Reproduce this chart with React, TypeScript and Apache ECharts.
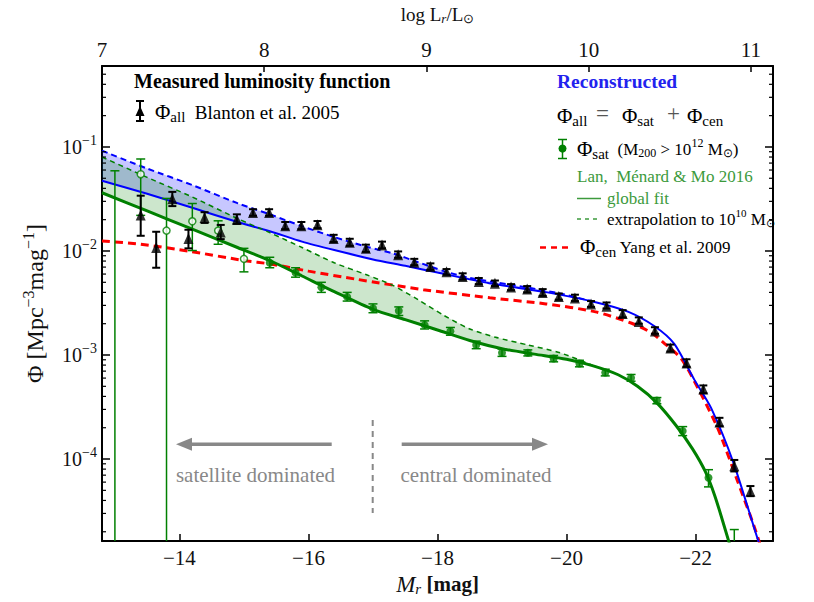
import React, { useEffect, useRef } from "react";
import * as echarts from "echarts";

const FONT = "Liberation Serif";

// Axis ranges
const X_MIN = -23.2;
const X_MAX = -12.8;
const TOP_MIN = 7;
const TOP_MAX = 11.136;
const Y_MIN = 1.63e-5;
const Y_MAX = 0.6;

// Blanton et al. 2005 (Phi_all, measured)
const blantonMr = [-13.40, -13.64, -13.89, -14.14, -14.39, -14.64, -14.89, -15.14, -15.39, -15.64, -15.89, -16.14, -16.39, -16.64, -16.89, -17.14, -17.39, -17.64, -17.89, -18.14, -18.39, -18.64, -18.89, -19.14, -19.39, -19.63, -19.88, -20.13, -20.38, -20.62, -20.87, -21.12, -21.37, -21.61, -21.86, -22.12, -22.37, -22.60, -22.85];
const blantonPhi = [0.0222, 0.0108, 0.0318, 0.0132, 0.0210, 0.0152, 0.0202, 0.0234, 0.0234, 0.0175, 0.0175, 0.0179, 0.0132, 0.0121, 0.0106, 0.0114, 0.0092, 0.0078, 0.0071, 0.0063, 0.0057, 0.0051, 0.0049, 0.0045, 0.0043, 0.0040, 0.00365, 0.00353, 0.0031, 0.00295, 0.0025, 0.0021, 0.0017, 0.00117, 0.00084, 0.00047, 0.000227, 0.000086, 0.000049];
const blantonLo = [0.0140, 0.0069, 0.0270, 0.0106, 0.0186, 0.0130, 0.0182, 0.0218, 0.0218, 0.0162, 0.0162, 0.0166, 0.0122, 0.0112, 0.0098, 0.0106, 0.0086, 0.0073, 0.0066, 0.0059, 0.0053, 0.0048, 0.0046, 0.0042, 0.0040, 0.0037, 0.0034, 0.0033, 0.0029, 0.0028, 0.0023, 0.0020, 0.0016, 0.00108, 0.00077, 0.00043, 0.000207, 0.000076, 0.000044];
const blantonHi = [0.0340, 0.0153, 0.0370, 0.0160, 0.0236, 0.0178, 0.0225, 0.0252, 0.0252, 0.0190, 0.0190, 0.0194, 0.0143, 0.0131, 0.0115, 0.0123, 0.0099, 0.0084, 0.0076, 0.0067, 0.0061, 0.0055, 0.0052, 0.0048, 0.0046, 0.0043, 0.0039, 0.0038, 0.0033, 0.0032, 0.0027, 0.0023, 0.00185, 0.00126, 0.00091, 0.00051, 0.000249, 0.000098, 0.000055];

// Lan, Ménard & Mo 2016 (Phi_sat); null = centre below the plotted range
const satMr = [-13.0, -13.4, -13.8, -14.2, -14.6, -15.0, -15.4, -15.8, -16.2, -16.6, -17.0, -17.4, -17.8, -18.2, -18.6, -19.0, -19.4, -19.8, -20.2, -20.6, -21.0, -21.4, -21.8, -22.2, -22.6];
const satPhi = [null, 0.0547, 0.0157, 0.0193, 0.0157, 0.0084, 0.0077, 0.0062, 0.00447, 0.00362, 0.00282, 0.00266, 0.00195, 0.00169, 0.00125, 0.00105, 0.00105, 0.000925, 0.00083, 0.00068, 0.000603, 0.000366, 0.000186, 0.000066, null];
const satLo = [1e-7, 0.022, 1e-7, 0.0101, 0.0116, 0.0063, 0.0069, 0.0056, 0.0040, 0.0033, 0.00255, 0.0024, 0.00178, 0.00155, 0.00115, 0.00097, 0.00098, 0.00086, 0.00077, 0.00063, 0.00056, 0.00034, 0.000168, 0.000054, 1e-7];
const satHi = [0.059, 0.0766, 0.032, 0.0286, 0.0195, 0.0106, 0.0087, 0.0069, 0.0050, 0.0040, 0.0031, 0.0029, 0.00213, 0.00184, 0.00136, 0.00114, 0.00112, 0.00099, 0.00089, 0.00073, 0.00065, 0.00039, 0.000205, 0.000079, 0.000021];
const satOpen = [true, true, true, true, true, true, false, false, false, false, false, false, false, false, false, false, false, false, false, false, false, false, false, false, false];

// Phi_sat global fit (green solid)
const fitMr = [-12.8, -13.5, -14.2, -14.9, -15.4, -15.9, -16.4, -17.0, -17.5, -18.0, -18.5, -19.0, -19.5, -20.0, -20.4, -20.8, -21.1, -21.4, -21.7, -21.95, -22.15, -22.3, -22.45, -22.6];
const fitPhi = [0.0363, 0.0243, 0.0162, 0.0108, 0.0081, 0.00575, 0.00407, 0.00275, 0.00219, 0.00174, 0.00138, 0.00115, 0.00102, 0.00091, 0.00079, 0.000646, 0.0005, 0.000347, 0.000209, 0.000126, 0.000076, 0.000044, 0.000022, 0.0000107];

// Phi_sat extrapolation to 1e10 Msun (green dashed)
const extMr = [-12.8, -13.5, -14.2, -14.9, -15.4, -15.9, -16.4, -16.9, -17.3, -17.7, -18.1, -18.5, -18.9, -19.4, -19.9, -20.4];
const extPhi = [0.080, 0.051, 0.033, 0.0205, 0.0150, 0.0108, 0.0077, 0.0059, 0.0047, 0.0034, 0.0024, 0.00178, 0.00148, 0.00125, 0.00105, 0.00080];

// Phi_cen Yang et al. 2009 (red dashed)
const cenMr = [-12.8, -13.4, -14.17, -15.0, -15.41, -16.0, -16.75, -17.78, -18.81, -19.68, -20.45, -21.01, -21.32, -21.52, -21.78, -22.03, -22.34, -22.64, -22.93, -23.2];
const cenPhi = [0.0125, 0.0116, 0.0099, 0.0081, 0.0075, 0.0064, 0.00534, 0.00425, 0.00355, 0.0031, 0.0026, 0.00202, 0.00163, 0.00129, 0.00092, 0.00049, 0.0002, 0.000064, 0.0000205, 0.000006];

// Reconstructed Phi_all, global fit (blue solid)
const allFitMr = [-12.8, -13.5, -14.2, -14.9, -15.4, -15.9, -16.4, -17.0, -17.5, -18.0, -18.8, -19.7, -20.45, -20.96, -21.37, -21.67, -21.98, -22.24, -22.59, -22.95, -23.2];
const allFitPhi = [0.0473, 0.0355, 0.026, 0.019, 0.0155, 0.0123, 0.0102, 0.0083, 0.0072, 0.0062, 0.0049, 0.0040, 0.00322, 0.0026, 0.00188, 0.00128, 0.00058, 0.00031, 0.000091, 0.000018, 0.000006];

// Reconstructed Phi_all, extrapolation (blue dashed)
const allExtMr = [-12.8, -13.5, -14.2, -14.9, -15.4, -15.9, -16.4, -16.9, -17.3, -17.7, -18.1, -18.5, -18.9, -19.4, -19.9, -20.45];
const allExtPhi = [0.092, 0.062, 0.043, 0.0288, 0.0225, 0.0173, 0.0136, 0.0110, 0.0095, 0.0078, 0.0064, 0.0055, 0.0050, 0.00445, 0.0039, 0.00322];

// Minor tick mantissas of the log axis
const minorMantissas = [2, 3, 4, 5, 6, 7, 8, 9];
const minorDecades = [-5, -4, -3, -2, -1];

const BLUE = "#0000ff";
const GREEN = "#008000";
const RED = "#ff0000";
const GREY = "#888888";
const TXT_GREEN = "#3c9a3c";
const TXT_RED = "#ff3030";

const zip = (xs: number[], ys: (number | null)[]) => xs.map((x, i) => [x, ys[i]]);

function errRender(color: string, lw: number, capHalf: number) {
  return (params: any, api: any) => {
    const x = api.value(0);
    const lo = api.value(1);
    const hi = api.value(2);
    const cs = params.coordSys;
    const pLo = api.coord([x, lo]);
    const pHi = api.coord([x, hi]);
    const top = cs.y;
    const bot = cs.y + cs.height;
    const px = pLo[0];
    const y1 = Math.min(pLo[1], bot);
    const y2 = Math.max(pHi[1], top);
    const st = { stroke: color, lineWidth: lw };
    const children: any[] = [{ type: "line", shape: { x1: px, y1, x2: px, y2 }, style: st }];
    if (pLo[1] <= bot) children.push({ type: "line", shape: { x1: px - capHalf, y1: pLo[1], x2: px + capHalf, y2: pLo[1] }, style: st });
    if (pHi[1] >= top) children.push({ type: "line", shape: { x1: px - capHalf, y1: pHi[1], x2: px + capHalf, y2: pHi[1] }, style: st });
    return { type: "group", children };
  };
}

// Fill between an upper curve and a lower curve, over the x-range of the upper curve
function bandRender(upper: number[][], lower: number[][], fill: string) {
  const xa = Math.min(upper[0][0], upper[upper.length - 1][0]);
  const xb = Math.max(upper[0][0], upper[upper.length - 1][0]);
  const lowIn = lower.filter((p) => p[0] >= xa - 1e-9 && p[0] <= xb + 1e-9);
  return (params: any, api: any) => {
    if (params.dataIndex !== 0) return { type: "group", children: [] };
    const pts = upper.map((p) => api.coord(p)).concat(lowIn.slice().reverse().map((p) => api.coord(p)));
    return { type: "polygon", shape: { points: pts }, style: { fill, stroke: "none" } };
  };
}

function buildOption(): any {
  const minorVals: number[][] = [];
  minorDecades.forEach((d) => minorMantissas.forEach((m) => {
    const v = m * Math.pow(10, d);
    if (v > Y_MIN && v < Y_MAX) minorVals.push([-18, v]);
  }));

  const blantonErr = blantonMr.map((x, i) => [x, blantonLo[i], blantonHi[i]]);
  const satErr = satMr.map((x, i) => [x, satLo[i], satHi[i]]);
  const satFilled = satMr.map((x, i) => [x, satPhi[i]]).filter((p, i) => p[1] !== null && !satOpen[i]);
  const satOpenPts = satMr.map((x, i) => [x, satPhi[i]]).filter((p, i) => p[1] !== null && satOpen[i]);

  const allFit = zip(allFitMr, allFitPhi) as number[][];
  const allExt = zip(allExtMr, allExtPhi) as number[][];
  const fit = zip(fitMr, fitPhi) as number[][];
  const ext = zip(extMr, extPhi) as number[][];

  const axisLine = { show: true, onZero: false, lineStyle: { color: "#000", width: 2 } };

  const txt = (text: string, x: number, y: number, extra: any = {}) => {
    const style: any = {
      text, x, y,
      fontFamily: FONT, fontSize: extra.fontSize || 18, fill: extra.fill || "#000",
      align: extra.align || "left", verticalAlign: "middle",
    };
    if (extra.fontWeight) style.fontWeight = extra.fontWeight;
    if (extra.rich) style.rich = extra.rich;
    return { type: "text", z: 100, style };
  };

  const R = (size: number, color: string, extra: any = {}) => ({ fontSize: size, fontFamily: FONT, color, ...extra });
  const sub = (size: number, color: string) => R(size, color, { padding: [10, 0, 0, 0] });

  const graphic: any[] = [
    // Measured LF legend
    txt("Measured luminosity function", 134, 81, { fontSize: 20, fontWeight: "bold", fill: "#000" }),
    { type: "line", z: 100, shape: { x1: 140, y1: 101, x2: 140, y2: 121 }, style: { stroke: "#000", lineWidth: 2 } },
    { type: "line", z: 100, shape: { x1: 136, y1: 101, x2: 144, y2: 101 }, style: { stroke: "#000", lineWidth: 2 } },
    { type: "line", z: 100, shape: { x1: 136, y1: 121, x2: 144, y2: 121 }, style: { stroke: "#000", lineWidth: 2 } },
    { type: "polygon", z: 100, shape: { points: [[140, 106], [135.5, 116], [144.5, 116]] }, style: { fill: "#000" } },
    txt("{p|Φ}{s|all}{t|  Blanton et al. 2005}", 155, 112, {
      rich: { p: R(21, "#111"), s: sub(15, "#111"), t: R(19, "#444") },
    }),
    // Reconstructed legend
    txt("Reconstructed", 557, 81, { fontSize: 19.5, fontWeight: "bold", fill: "#2222ee" }),
    txt("{p|Φ}{s|all}", 557, 116, { rich: { p: R(21, "#4444ff"), s: sub(15, "#4444ff") } }),
    txt("=", 596, 113, { fontSize: 23, fill: "#555" }),
    txt("{p|Φ}{s|sat}", 622, 116, { rich: { p: R(21, TXT_GREEN), s: sub(15, TXT_GREEN) } }),
    txt("+", 667, 113, { fontSize: 23, fill: "#555" }),
    txt("{p|Φ}{s|cen}", 687, 116, { rich: { p: R(21, TXT_RED), s: sub(15, TXT_RED) } }),
    // Phi_sat legend
    { type: "line", z: 100, shape: { x1: 562.5, y1: 139.5, x2: 562.5, y2: 158.5 }, style: { stroke: GREEN, lineWidth: 1.5 } },
    { type: "line", z: 100, shape: { x1: 558, y1: 139.5, x2: 567, y2: 139.5 }, style: { stroke: GREEN, lineWidth: 1.5 } },
    { type: "line", z: 100, shape: { x1: 558, y1: 158.5, x2: 567, y2: 158.5 }, style: { stroke: GREEN, lineWidth: 1.5 } },
    { type: "circle", z: 100, shape: { cx: 562.5, cy: 148.5, r: 4 }, style: { fill: GREEN } },
    txt("{p|Φ}{s|sat}{t|  (M}{u|200}{t| > 10}{v|12}{t| M}{u|⊙}{t|)}", 577, 149, {
      rich: {
        p: R(21, TXT_GREEN), s: sub(15, TXT_GREEN),
        t: R(17, TXT_GREEN), u: R(12, TXT_GREEN, { padding: [8, 0, 0, 0] }), v: R(12, TXT_GREEN, { padding: [0, 0, 12, 0] }),
      },
    }),
    txt("Lan,  Ménard & Mo 2016", 577, 176, { fontSize: 17, fill: TXT_GREEN }),
    { type: "line", z: 100, shape: { x1: 577, y1: 198.5, x2: 601, y2: 198.5 }, style: { stroke: TXT_GREEN, lineWidth: 1.5 } },
    txt("global fit", 607, 198, { fontSize: 17, fill: TXT_GREEN }),
    { type: "line", z: 100, shape: { x1: 577, y1: 219, x2: 601, y2: 219 }, style: { stroke: TXT_GREEN, lineWidth: 1.5, lineDash: [4, 4] } },
    txt("{t|extrapolation to 10}{v|10}{t| M}{u|⊙}", 607, 219, {
      rich: { t: R(17, TXT_GREEN), u: R(11, TXT_GREEN, { padding: [8, 0, 0, 0] }), v: R(11, TXT_GREEN, { padding: [0, 0, 12, 0] }) },
    }),
    // Phi_cen legend
    { type: "line", z: 100, shape: { x1: 540, y1: 247.5, x2: 573, y2: 247.5 }, style: { stroke: RED, lineWidth: 2.5, lineDash: [6, 5] } },
    txt("{p|Φ}{s|cen}{t| Yang et al. 2009}", 580, 247, {
      rich: { p: R(21, TXT_RED), s: sub(15, TXT_RED), t: R(17, TXT_RED) },
    }),
    // Arrows and domination labels
    { type: "line", z: 100, shape: { x1: 331.7, y1: 444.3, x2: 190, y2: 444.3 }, style: { stroke: GREY, lineWidth: 3.5 } },
    { type: "polygon", z: 100, shape: { points: [[176, 444.3], [192, 437.8], [192, 450.8]] }, style: { fill: GREY } },
    { type: "line", z: 100, shape: { x1: 401.7, y1: 444.3, x2: 534, y2: 444.3 }, style: { stroke: GREY, lineWidth: 3.5 } },
    { type: "polygon", z: 100, shape: { points: [[548, 444.3], [532, 437.8], [532, 450.8]] }, style: { fill: GREY } },
    { type: "line", z: 100, shape: { x1: 372.7, y1: 420, x2: 372.7, y2: 513 }, style: { stroke: GREY, lineWidth: 2, lineDash: [6, 5] } },
    txt("satellite dominated", 255.5, 474.5, { fontSize: 21, fill: GREY, align: "center" }),
    txt("central dominated", 476, 474.5, { fontSize: 21, fill: GREY, align: "center" }),
  ];

  const lineSeries = (data: any[], color: string, width: number, dashed: number[] | null, z: number) => ({
    type: "line",
    data,
    showSymbol: false,
    symbol: "none",
    smooth: 0.25,
    clip: true,
    z,
    silent: true,
    lineStyle: { color, width, type: dashed ? dashed : "solid" },
  });

  return {
    animation: false,
    graphic,
    grid: { left: 102, right: 41, top: 54, bottom: 61, containLabel: false },
    xAxis: [
      {
        type: "value",
        min: X_MIN,
        max: X_MAX,
        inverse: true,
        position: "bottom",
        splitNumber: 5,
        axisLine,
        axisTick: { inside: true, length: 7, lineStyle: { color: "#000", width: 1.5 } },
        axisLabel: {
          fontFamily: FONT, color: "#111", fontSize: 21, margin: 6, showMinLabel: false, showMaxLabel: false,
          formatter: (v: number) => (v < 0 ? "−" : "") + Math.abs(v),
        },
        splitLine: { show: false },
        name: "{i|M}{s|r}{n| }{b|[mag]}",
        nameLocation: "middle",
        nameGap: 31,
        nameTextStyle: {
          rich: {
            i: R(23, "#111", { fontStyle: "italic" }),
            s: R(15, "#111", { fontStyle: "italic", padding: [9, 0, 0, 0] }),
            n: R(21, "#111"),
            b: R(21, "#111", { fontWeight: "bold" }),
          },
        },
      },
      {
        type: "value",
        min: TOP_MIN,
        max: TOP_MAX,
        interval: 1,
        position: "top",
        axisLine,
        axisTick: { inside: true, length: 6, lineStyle: { color: "#000", width: 1.5 } },
        axisLabel: { fontFamily: FONT, color: "#111", fontSize: 21, margin: 6, showMaxLabel: false },
        splitLine: { show: false },
        name: "{n|log L}{s|r}{n|/L}{u|⊙}",
        nameLocation: "middle",
        nameGap: 41,
        nameTextStyle: {
          rich: {
            n: R(19, "#111"),
            s: R(13, "#111", { fontStyle: "italic", padding: [8, 0, 0, 0] }),
            u: R(13, "#111", { padding: [8, 0, 0, 0] }),
          },
        },
      },
    ],
    yAxis: [
      {
        type: "log",
        min: Y_MIN,
        max: Y_MAX,
        position: "left",
        axisLine,
        axisTick: { inside: true, length: 8, lineStyle: { color: "#000", width: 1.5 } },
        axisLabel: {
          fontFamily: FONT,
          color: "#111",
          margin: 5,
          showMinLabel: false,
          showMaxLabel: false,
          formatter: (v: number) => "{b|10}{s|−" + Math.abs(Math.round(Math.log10(v))) + "}",
          rich: {
            b: R(20, "#111"),
            s: R(14, "#111", { padding: [0, 0, 13, 0] }),
          },
        },
        splitLine: { show: false },
        name: "{n|Φ [Mpc}{s|−3}{n|mag}{s|−1}{n|]}",
        nameLocation: "middle",
        nameRotate: 90,
        nameGap: 52,
        nameTextStyle: {
          rich: {
            n: R(24, "#111"),
            s: R(16, "#111", { padding: [0, 0, 14, 0] }),
          },
        },
      },
      {
        type: "log",
        min: Y_MIN,
        max: Y_MAX,
        position: "right",
        axisLine,
        axisTick: { inside: true, length: 8, lineStyle: { color: "#000", width: 1.5 } },
        axisLabel: { show: false },
        splitLine: { show: false },
      },
    ],
    series: [
      {
        type: "custom", coordinateSystem: "cartesian2d", silent: true, z: 1,
        data: allExt, encode: { x: 0, y: 1 },
        renderItem: bandRender(allExt, allFit, "rgba(0,0,255,0.22)"),
      },
      {
        type: "custom", coordinateSystem: "cartesian2d", silent: true, z: 1,
        data: ext, encode: { x: 0, y: 1 },
        renderItem: bandRender(ext, fit, "rgba(0,128,0,0.2)"),
      },
      lineSeries(zip(cenMr, cenPhi), RED, 3, [8, 5], 3),
      lineSeries(allFit, BLUE, 2, null, 3),
      lineSeries(allExt, BLUE, 2, [6, 4], 3),
      lineSeries(fit, GREEN, 3, null, 3),
      lineSeries(ext, GREEN, 1.5, [5, 4], 3),
      {
        type: "custom", coordinateSystem: "cartesian2d", silent: true, z: 5,
        data: minorVals, encode: { x: 0, y: 1 },
        renderItem: (params: any, api: any) => {
          const y = api.coord([-18, api.value(1)])[1];
          const cs = params.coordSys;
          const st = { stroke: "#000", lineWidth: 1.2 };
          return {
            type: "group",
            children: [
              { type: "line", shape: { x1: cs.x, y1: y, x2: cs.x + 4, y2: y }, style: st },
              { type: "line", shape: { x1: cs.x + cs.width - 4, y1: y, x2: cs.x + cs.width, y2: y }, style: st },
            ],
          };
        },
      },
      {
        type: "custom", coordinateSystem: "cartesian2d", silent: true, z: 4,
        data: satErr, encode: { x: 0, y: [1, 2] },
        renderItem: errRender(GREEN, 1.5, 4.5),
      },
      {
        type: "custom", coordinateSystem: "cartesian2d", silent: true, z: 4,
        data: blantonErr, encode: { x: 0, y: [1, 2] },
        renderItem: errRender("#000", 2, 4),
      },
      {
        type: "scatter", data: satFilled, symbol: "circle", symbolSize: 8, clip: true, z: 6, silent: true,
        itemStyle: { color: GREEN },
      },
      {
        type: "scatter", data: satOpenPts, symbol: "circle", symbolSize: 7, clip: true, z: 6, silent: true,
        itemStyle: { color: "#fff", borderColor: GREEN, borderWidth: 1.5 },
      },
      {
        type: "scatter", data: zip(blantonMr, blantonPhi), symbol: "triangle", symbolSize: [10, 11], clip: true, z: 7, silent: true,
        itemStyle: { color: "#000" },
      },
    ],
  };
}

export default function App() {
  const ref = useRef<HTMLDivElement>(null);
  useEffect(() => {
    if (!ref.current) return;
    const chart = echarts.init(ref.current, undefined, { renderer: "svg" });
    chart.setOption(buildOption());
    return () => chart.dispose();
  }, []);
  return (
    <div
      ref={ref}
      style={{ position: "fixed", left: 0, top: 0, width: 814, height: 602, background: "#fff" }}
    />
  );
}
